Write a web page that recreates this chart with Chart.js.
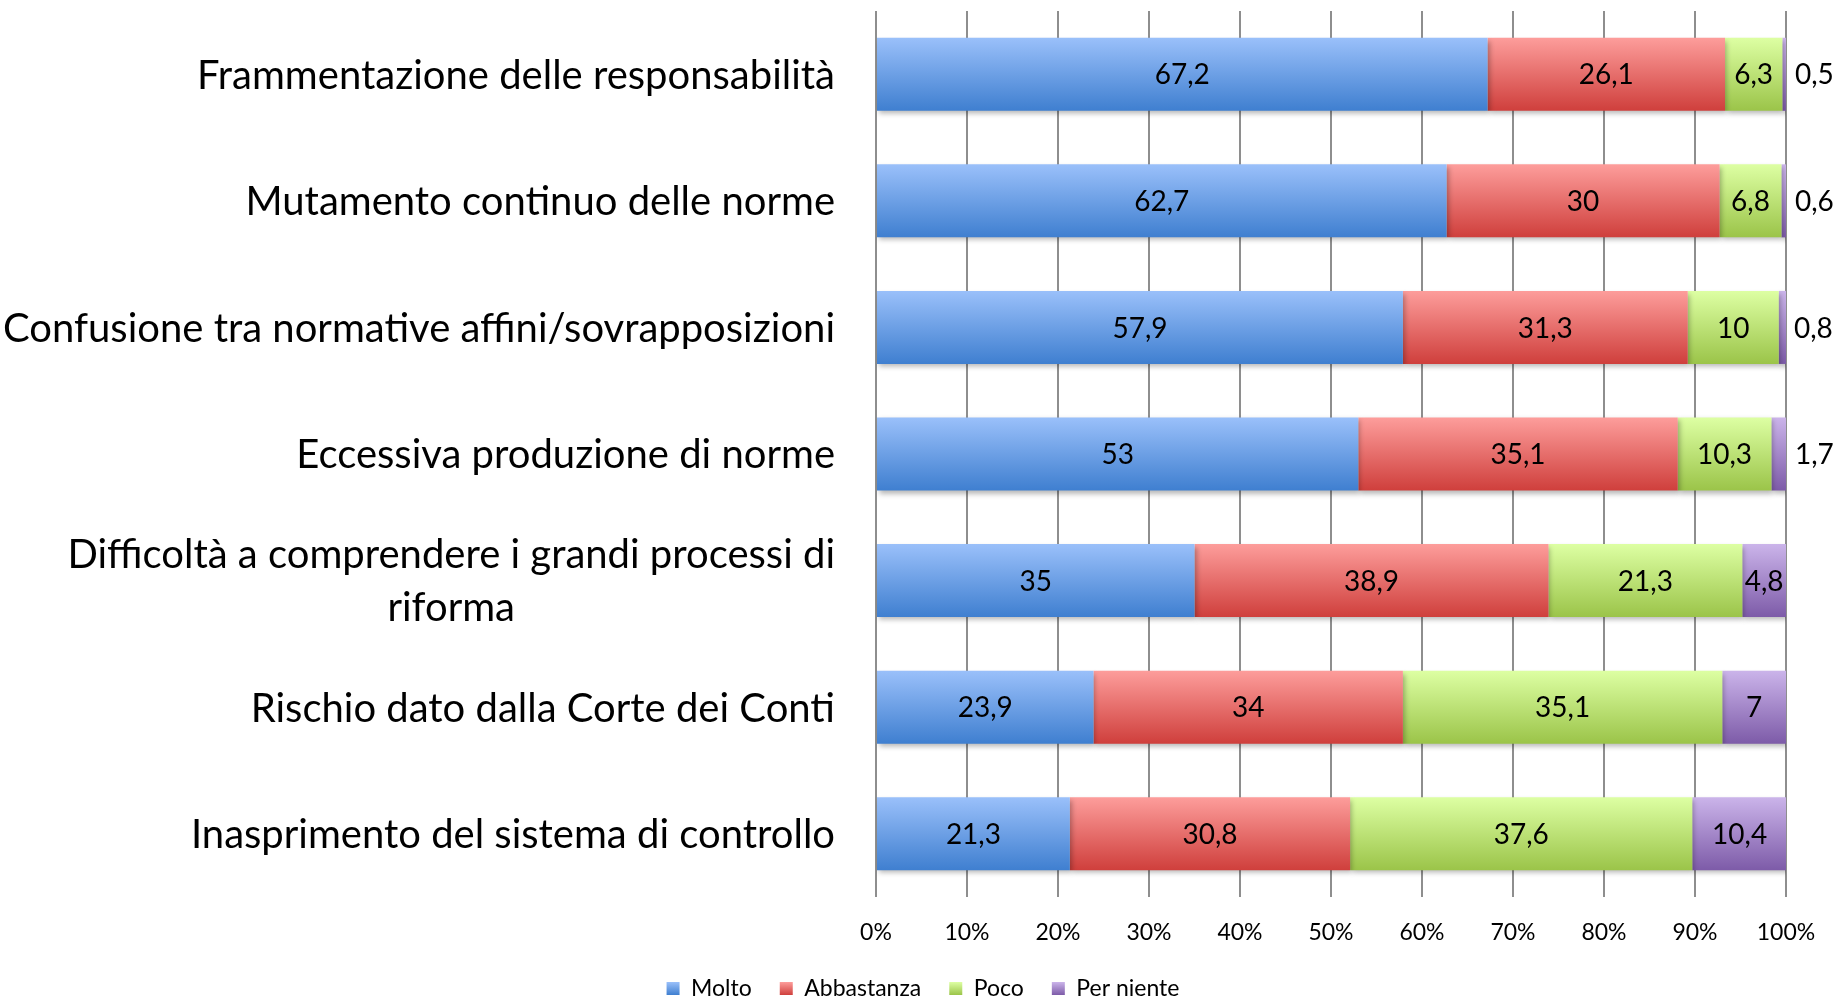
<!DOCTYPE html>
<html>
<head>
<meta charset="utf-8">
<script src="https://cdn.jsdelivr.net/npm/chart.js@4"></script>
<style>
  html, body { margin: 0; padding: 0; background: #fff; }
  #wrap { width: 1839px; height: 998px; }
</style>
</head>
<body>
<div id="wrap"><canvas id="chart"></canvas></div>
<script>
// categories (top to bottom)
const categories = [
  'Frammentazione delle responsabilità',
  'Mutamento continuo delle norme',
  'Confusione tra normative affini/sovrapposizioni',
  'Eccessiva produzione di norme',
  ['Difficoltà a comprendere i grandi processi di', 'riforma'],
  'Rischio dato dalla Corte dei Conti',
  'Inasprimento del sistema di controllo'
];

const molto      = [67.2, 62.7, 57.9, 53,   35,   23.9, 21.3];
const abbastanza = [26.1, 30,   31.3, 35.1, 38.9, 34,   30.8];
const poco       = [6.3,  6.8,  10,   10.3, 21.3, 35.1, 37.6];
const perNiente  = [0.5,  0.6,  0.8,  1.7,  4.8,  7,    10.4];

const seriesNames = ['Molto', 'Abbastanza', 'Poco', 'Per niente'];
const xTickLabels = ['0%', '10%', '20%', '30%', '40%', '50%', '60%', '70%', '80%', '90%', '100%'];

// light (top) / dark (bottom) of each bar gradient
const topColors = ['#9ac0fa', '#fd9d9b', '#ddffa3', '#cbb4ea'];
const bottomColors = ['#3f7fd0', '#cf3f3c', '#9bc449', '#7d5ba8'];

const BAR_PCT = 0.577;
const FONT = 'Lato';
const LEGEND_SIZE = 23;

function barGradient(k) {
  return function (c) {
    const chart = c.chart;
    const ys = chart.scales.y;
    if (c.type !== 'data' || !ys) return bottomColors[k];
    const mid = ys.getPixelForValue(c.dataIndex);
    const h = ys.height / chart.data.labels.length * BAR_PCT;
    if (!isFinite(mid) || !isFinite(h) || h <= 0) return bottomColors[k];
    const g = chart.ctx.createLinearGradient(0, mid - h / 2, 0, mid + h / 2);
    g.addColorStop(0, topColors[k]);
    g.addColorStop(1, bottomColors[k]);
    return g;
  };
}

// soft shadow under the bars
const barShadow = {
  id: 'barShadow',
  beforeDatasetsDraw(chart) {
    const ctx = chart.ctx;
    ctx.save();
    ctx.shadowColor = 'rgba(0,0,0,0.28)';
    ctx.shadowBlur = 5;
    ctx.shadowOffsetX = 2;
    ctx.shadowOffsetY = 3;
  },
  afterDatasetsDraw(chart) {
    chart.ctx.restore();
  }
};

// value labels, centred in the segment or just right of it if too narrow
const dataLabels = {
  id: 'dataLabels',
  afterDatasetsDraw(chart) {
    const ctx = chart.ctx;
    const size = 28;
    ctx.save();
    ctx.font = size + 'px ' + FONT;
    ctx.fillStyle = '#000';
    ctx.textBaseline = 'alphabetic';
    chart.data.datasets.forEach((ds, di) => {
      const meta = chart.getDatasetMeta(di);
      meta.data.forEach((bar, i) => {
        const txt = String(ds.data[i]).replace('.', ',');
        const w = ctx.measureText(txt).width;
        const left = Math.min(bar.x, bar.base);
        const right = Math.max(bar.x, bar.base);
        const y = bar.y + size * 0.36;
        if (right - left >= w + 4) {
          ctx.textAlign = 'center';
          ctx.fillText(txt, (left + right) / 2, y);
        } else {
          ctx.textAlign = 'left';
          ctx.fillText(txt, right + 8, y);
        }
      });
    });
    ctx.restore();
  }
};

// category labels: right aligned block, lines centred inside it
const yLabels = {
  id: 'yLabels',
  afterDraw(chart) {
    const ys = chart.scales.y;
    const ctx = chart.ctx;
    const size = 40;
    ctx.save();
    ctx.font = size + 'px ' + FONT;
    ctx.fillStyle = '#000';
    ctx.textAlign = 'center';
    ctx.textBaseline = 'alphabetic';
    const xRight = chart.chartArea.left - 41;
    categories.forEach((lab, i) => {
      const lines = Array.isArray(lab) ? lab : [lab];
      const widest = Math.max(...lines.map(l => ctx.measureText(l).width));
      const cx = xRight - widest / 2;
      const cy = ys.getPixelForTick(i);
      lines.forEach((l, k) => {
        ctx.fillText(l, cx, cy + (k - (lines.length - 1) / 2) * 53 + size * 0.36);
      });
    });
    ctx.restore();
  }
};

// gradient boxes in the legend
const legendGradient = {
  id: 'legendGradient',
  beforeDraw(chart) {
    const lg = chart.legend;
    if (!lg || !lg.legendItems || !lg.legendHitBoxes) return;
    const off = (LEGEND_SIZE - 13) / 2;
    lg.legendItems.forEach((item, i) => {
      const hb = lg.legendHitBoxes[i];
      if (!hb || !isFinite(hb.top)) return;
      const k = item.datasetIndex;
      const g = chart.ctx.createLinearGradient(0, hb.top + off, 0, hb.top + off + 13);
      g.addColorStop(0, topColors[k]);
      g.addColorStop(1, bottomColors[k]);
      item.fillStyle = g;
    });
  }
};

const seriesData = [molto, abbastanza, poco, perNiente];

new Chart('chart', {
  type: 'bar',
  data: {
    labels: categories,
    datasets: seriesData.map((d, k) => ({
      label: seriesNames[k],
      data: d,
      backgroundColor: barGradient(k),
      borderWidth: 0,
      categoryPercentage: 1,
      barPercentage: BAR_PCT
    }))
  },
  options: {
    indexAxis: 'y',
    responsive: true,
    maintainAspectRatio: false,
    animation: false,
    layout: { padding: { top: 11, right: 53, bottom: -12, left: 60 } },
    scales: {
      x: {
        stacked: true,
        min: 0,
        max: 100,
        border: { display: false },
        grid: { color: '#8e8e8e', lineWidth: 2, drawTicks: false },
        ticks: {
          stepSize: 10,
          padding: 22,
          color: '#000',
          font: { family: FONT, size: 23 },
          callback: (v, i) => xTickLabels[i]
        },
        afterFit: (s) => { s.height = 52; }
      },
      y: {
        stacked: true,
        grid: { display: false },
        border: { display: false },
        ticks: { display: false },
        afterFit: (s) => { s.width = 816; }
      }
    },
    plugins: {
      tooltip: { enabled: false },
      legend: {
        position: 'bottom',
        labels: {
          boxWidth: 13,
          boxHeight: 13,
          padding: 28,
          color: '#000',
          font: { family: FONT, size: LEGEND_SIZE }
        }
      }
    }
  },
  plugins: [legendGradient, barShadow, dataLabels, yLabels]
});
</script>
</body>
</html>
